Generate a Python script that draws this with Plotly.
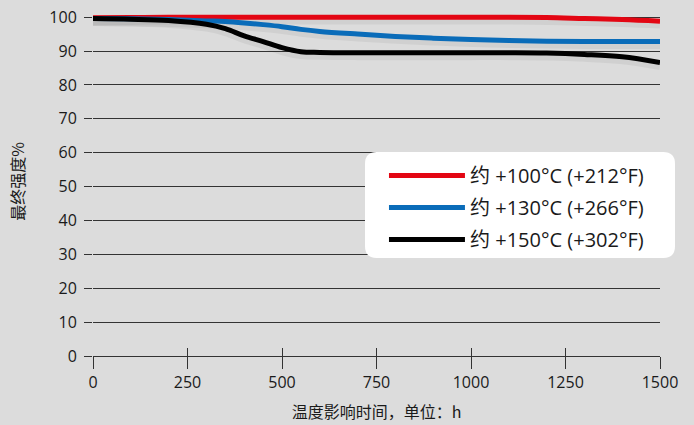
import plotly.graph_objects as go

# exposure time in hours
hours = [0, 100, 200, 300, 350, 400, 450, 500, 550, 600, 700, 800, 900, 1000, 1100, 1200, 1300, 1400, 1500]

# residual strength in percent
strength_100 = [99.8, 99.9, 100, 100, 100, 100, 100, 100, 100, 100, 100, 100, 100, 100, 100, 99.9, 99.6, 99.3, 98.8]
strength_130 = [99.6, 99.5, 99.3, 98.9, 98.7, 98.3, 97.8, 97.2, 96.4, 95.8, 95.0, 94.3, 93.8, 93.4, 93.1, 92.9, 92.8, 92.8, 92.8]
strength_150 = [99.6, 99.4, 99.0, 97.9, 96.6, 94.5, 92.8, 91.0, 89.8, 89.6, 89.5, 89.5, 89.5, 89.5, 89.5, 89.4, 89.0, 88.3, 86.6]

labels = ['约 +100°C (+212°F)', '约 +130°C (+266°F)', '约 +150°C (+302°F)']
colors = ['#e30613', '#0a6cb9', '#000000']

x_ticks = [0, 250, 500, 750, 1000, 1250, 1500]
y_ticks = [0, 10, 20, 30, 40, 50, 60, 70, 80, 90, 100]

FONT = 'Open Sans, Noto Sans CJK SC, sans-serif'
CJK = 'Noto Sans CJK SC, sans-serif'

fig = go.Figure()

series = [strength_100, strength_130, strength_150]

# soft shadow under each curve
for s in series:
    fig.add_trace(go.Scatter(x=hours, y=[v - 1.0 for v in s], mode='lines', line_shape='spline',
                             line=dict(color='rgba(0,0,0,0.05)', width=8),
                             showlegend=False, hoverinfo='skip'))

for s, name, c in zip(series, labels, colors):
    fig.add_trace(go.Scatter(x=hours, y=s, name=name, mode='lines', line_shape='spline',
                             line=dict(color=c, width=5), showlegend=False))

# dummy trace on overlay axis for the upward part of the x ticks
fig.add_trace(go.Scatter(x=[0, 1500], y=[0, 0], xaxis='x2', mode='lines',
                         line=dict(width=0), showlegend=False, hoverinfo='skip'))

# legend box drawn by hand (rounded corners, long line samples)
x0, x1, y0, y1 = 0.4797, 1.0265, 0.2808, 0.5845
rx, ry = 0.021, 0.034
path = (f'M {x0+rx} {y0} L {x1-rx} {y0} Q {x1} {y0} {x1} {y0+ry} '
        f'L {x1} {y1-ry} Q {x1} {y1} {x1-rx} {y1} L {x0+rx} {y1} '
        f'Q {x0} {y1} {x0} {y1-ry} L {x0} {y0+ry} Q {x0} {y0} {x0+rx} {y0} Z')
shapes = [dict(type='path', path=path, xref='paper', yref='paper',
               fillcolor='white', line=dict(width=0), layer='above')]
annotations = []
for i, (name, c) in enumerate(zip(labels, colors)):
    yy = 0.5169 - i * 0.0917
    shapes.append(dict(type='line', xref='paper', yref='paper', x0=0.522, x1=0.656, y0=yy, y1=yy,
                       line=dict(color=c, width=5), layer='above'))
    annotations.append(dict(text=name, xref='paper', yref='paper', x=0.662, y=yy,
                            xanchor='left', yanchor='middle', showarrow=False,
                            font=dict(family=FONT, size=20, color='#1a1a1a')))

fig.update_layout(
    width=694, height=425,
    margin=dict(l=93, r=34, t=7, b=69),
    paper_bgcolor='#dcdcdc', plot_bgcolor='rgba(0,0,0,0)',
    font=dict(family=FONT, size=16, color='#1a1a1a'),
    shapes=shapes, annotations=annotations,
    xaxis=dict(range=[0, 1500], tickvals=x_ticks, showgrid=False, zeroline=False, automargin=False,
               showline=True, linecolor='#333', linewidth=1.3,
               ticks='outside', ticklen=12, tickcolor='#333', tickwidth=1.3,
               title=dict(text='温度影响时间，单位：h', font=dict(family=CJK, size=16), standoff=14)),
    xaxis2=dict(range=[0, 1500], overlaying='x', tickvals=x_ticks, showgrid=False, zeroline=False,
                showticklabels=False, ticks='inside', ticklen=8, tickcolor='#333', tickwidth=1.3,
                side='bottom', anchor='y', automargin=False),
    yaxis=dict(range=[0, 103], tickvals=y_ticks, showgrid=True, gridcolor='#333', gridwidth=1.3,
               zeroline=False, ticks='outside', ticklen=8, tickcolor='#333', tickwidth=1.3,
               ticklabelstandoff=4, automargin=False,
               title=dict(text='最终强度%', font=dict(family=CJK, size=16), standoff=20)),
)

# drop the default page margin so the figure sits at the window corner
fig.write_html('out.html', config={'displayModeBar': False},
               post_script="document.body.style.margin='0';")
